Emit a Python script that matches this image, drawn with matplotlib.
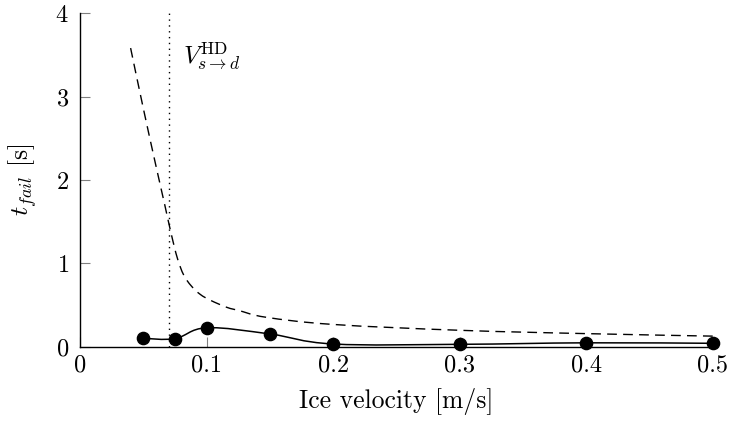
import numpy as np
import matplotlib
matplotlib.use("Agg")
import matplotlib.pyplot as plt
import matplotlib as mpl
from matplotlib.path import Path
from matplotlib.patches import PathPatch

# measured failure time vs ice velocity
velocity = [0.05, 0.075, 0.1, 0.15, 0.2, 0.3, 0.4, 0.5]
t_fail = [0.104, 0.10, 0.23, 0.156, 0.036, 0.032, 0.05, 0.044]

# dashed reference curve
ref_v = [0.04, 0.05, 0.06, 0.067, 0.072, 0.077, 0.082, 0.088, 0.095, 0.103,
         0.116, 0.126, 0.147, 0.2, 0.3, 0.4, 0.5]
ref_t = [3.58, 2.86, 2.17, 1.70, 1.36, 1.06, 0.86, 0.73, 0.63, 0.56,
         0.475, 0.435, 0.356, 0.27, 0.20, 0.16, 0.13]

v_transition = 0.07

xticks = [0, 0.1, 0.2, 0.3, 0.4, 0.5]
xticklabels = ["0", "0.1", "0.2", "0.3", "0.4", "0.5"]
yticks = [0, 1, 2, 3, 4]

mpl.rcParams['font.family'] = 'serif'
mpl.rcParams['font.serif'] = ['cmr10', 'DejaVu Serif']
mpl.rcParams['mathtext.fontset'] = 'cm'
mpl.rcParams['axes.formatter.use_mathtext'] = True


def smooth_path(x, y, k=0.18):
    # cubic bezier through the points (like pgfplots "smooth")
    p = np.column_stack([x, y]).astype(float)
    n = len(p)
    verts = [p[0]]
    codes = [Path.MOVETO]
    for i in range(n - 1):
        prev = p[i - 1] if i > 0 else p[i]
        nxt = p[i + 2] if i + 2 < n else p[i + 1]
        c1 = p[i] + k * (p[i + 1] - prev)
        c2 = p[i + 1] - k * (nxt - p[i])
        verts += [c1, c2, p[i + 1]]
        codes += [Path.CURVE4] * 3
    return Path(verts, codes)


fig = plt.figure(figsize=(7.33, 4.21), dpi=100)
ax = fig.add_axes([0.1091, 0.1758, 0.8636, 0.7933])

ax.set_xlim(0, 0.5)
ax.set_ylim(0, 4)

ax.add_patch(PathPatch(smooth_path(ref_v, ref_t), fill=False, ec='k', lw=1.0,
                       ls=(0, (7, 4.5)), zorder=2))
ax.add_patch(PathPatch(smooth_path(velocity, t_fail), fill=False, ec='k',
                       lw=1.1, zorder=3))
ax.plot(velocity, t_fail, 'o', color='k', ms=8.8, zorder=4, clip_on=False)
ax.plot([v_transition, v_transition], [0, 4], color='k', lw=1.0,
        ls=(0, (1, 3.2)), zorder=1)

ax.text(0.0814, 3.48, r"$V_{s\to d}^{\mathrm{HD}}$", fontsize=18, va='center',
        ha='left')

ax.set_xticks(xticks)
ax.set_xticklabels(xticklabels)
ax.set_yticks(yticks)
ax.tick_params(direction='in', length=7.5, width=0.8, color='#808080',
               labelsize=17.5, labelcolor='k')
ax.tick_params(axis='x', pad=5.5)
ax.tick_params(axis='y', pad=8)
ax.spines['top'].set_visible(False)
ax.spines['right'].set_visible(False)
ax.spines['left'].set_linewidth(1.0)
ax.spines['bottom'].set_linewidth(1.0)

ax.set_xlabel("Ice velocity [m/s]", fontsize=18.5, labelpad=8)
ax.set_ylabel(r"$t_{fail}$ [s]", fontsize=18.5, labelpad=12)

fig.savefig("out.png", dpi=100)
